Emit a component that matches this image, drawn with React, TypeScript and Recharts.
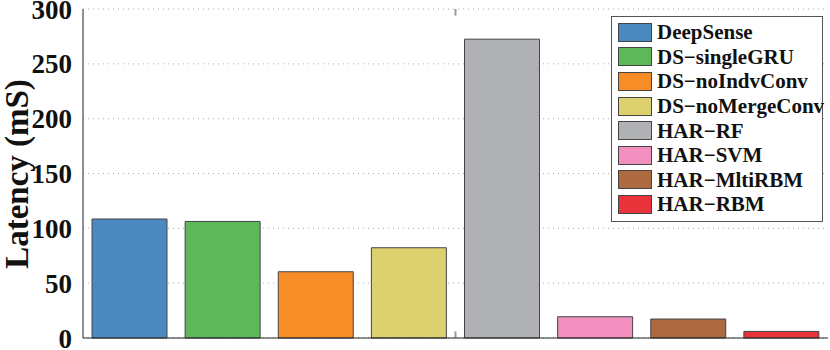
import { BarChart, Bar, Cell, CartesianGrid, XAxis, YAxis, ReferenceLine } from "recharts";

const methods = [
  "DeepSense",
  "DS\u2212singleGRU",
  "DS\u2212noIndvConv",
  "DS\u2212noMergeConv",
  "HAR\u2212RF",
  "HAR\u2212SVM",
  "HAR\u2212MltiRBM",
  "HAR\u2212RBM",
];
const latency = [108.5, 106.3, 60.4, 82.3, 272.5, 19.4, 17.3, 6];
const colors = ["#4a8ac1", "#5db85c", "#f68d27", "#ddd06f", "#b0b1b5", "#f190bf", "#ad693f", "#e8333a"];
const yTicks = [0, 50, 100, 150, 200, 250, 300];

const data = methods.map((name, i) => ({ name, idx: i + 0.5, value: latency[i] }));

const font = "'Liberation Serif', 'Times New Roman', serif";

const LegendBox = () => (
  <div
    style={{
      position: "absolute",
      left: 611,
      top: 16,
      border: "1px solid #555",
      background: "#fff",
      padding: "3px 4px 4px 6px",
      fontFamily: font,
      fontWeight: "bold",
      fontSize: 21,
      width: 200,
      color: "#111",
    }}
  >
    {methods.map((m, i) => (
      <div key={m} style={{ display: "flex", alignItems: "center", height: 24.6 }}>
        <span
          style={{
            display: "inline-block",
            width: 34,
            height: 19,
            background: colors[i],
            border: "1px solid #444",
            marginRight: 5,
            boxSizing: "border-box",
            flex: "none",
          }}
        />
        <span style={{ lineHeight: "20px", whiteSpace: "nowrap" }}>{m}</span>
      </div>
    ))}
  </div>
);

const App = () => {
  return (
    <div style={{ position: "fixed", left: 0, top: 0, width: 830, height: 350, background: "#fff" }}>
      <BarChart
        width={830}
        height={350}
        data={data}
        margin={{ top: 9, right: 2, bottom: 0, left: 0 }}
        barCategoryGap={9}
      >
        <CartesianGrid vertical={false} stroke="#aaa" strokeDasharray="1 4" />
        <XAxis dataKey="name" tick={false} tickLine={false} axisLine={{ stroke: "#222" }} height={12} />
        <XAxis xAxisId="top" dataKey="name" orientation="top" tick={false} tickLine={false} axisLine={{ stroke: "#222" }} height={0} />
        <XAxis xAxisId="num" dataKey="idx" type="number" domain={[0, 8]} hide />
        <YAxis
          domain={[0, 300]}
          ticks={yTicks}
          width={83}
          interval={0}
          tickLine={false}
          tickMargin={5}
          axisLine={{ stroke: "#222" }}
          tick={{ fill: "#111", fontFamily: font, fontWeight: "bold", fontSize: 27 }}
          label={{
            content: () => (
              <text
                transform="translate(17,174) rotate(-90)"
                textAnchor="middle"
                dominantBaseline="central"
                fill="#111"
                style={{ fontFamily: font, fontWeight: "bold", fontSize: 33 }}
              >
                Latency (mS)
              </text>
            ),
          }}
        />
        <YAxis yAxisId="right" orientation="right" domain={[0, 300]} width={0} tick={false} tickLine={false} axisLine={{ stroke: "#222" }} />
        <ReferenceLine xAxisId="num" segment={[{ x: 4, y: 0 }, { x: 4, y: 6 }]} stroke="#999" strokeWidth={2} />
        <ReferenceLine xAxisId="num" segment={[{ x: 4, y: 294 }, { x: 4, y: 300 }]} stroke="#999" strokeWidth={2} />
        <Bar dataKey="value" isAnimationActive={false} stroke="#444" strokeWidth={1}>
          {data.map((d, i) => (
            <Cell key={d.name} fill={colors[i]} />
          ))}
        </Bar>
      </BarChart>
      <LegendBox />
    </div>
  );
};

export default App;
